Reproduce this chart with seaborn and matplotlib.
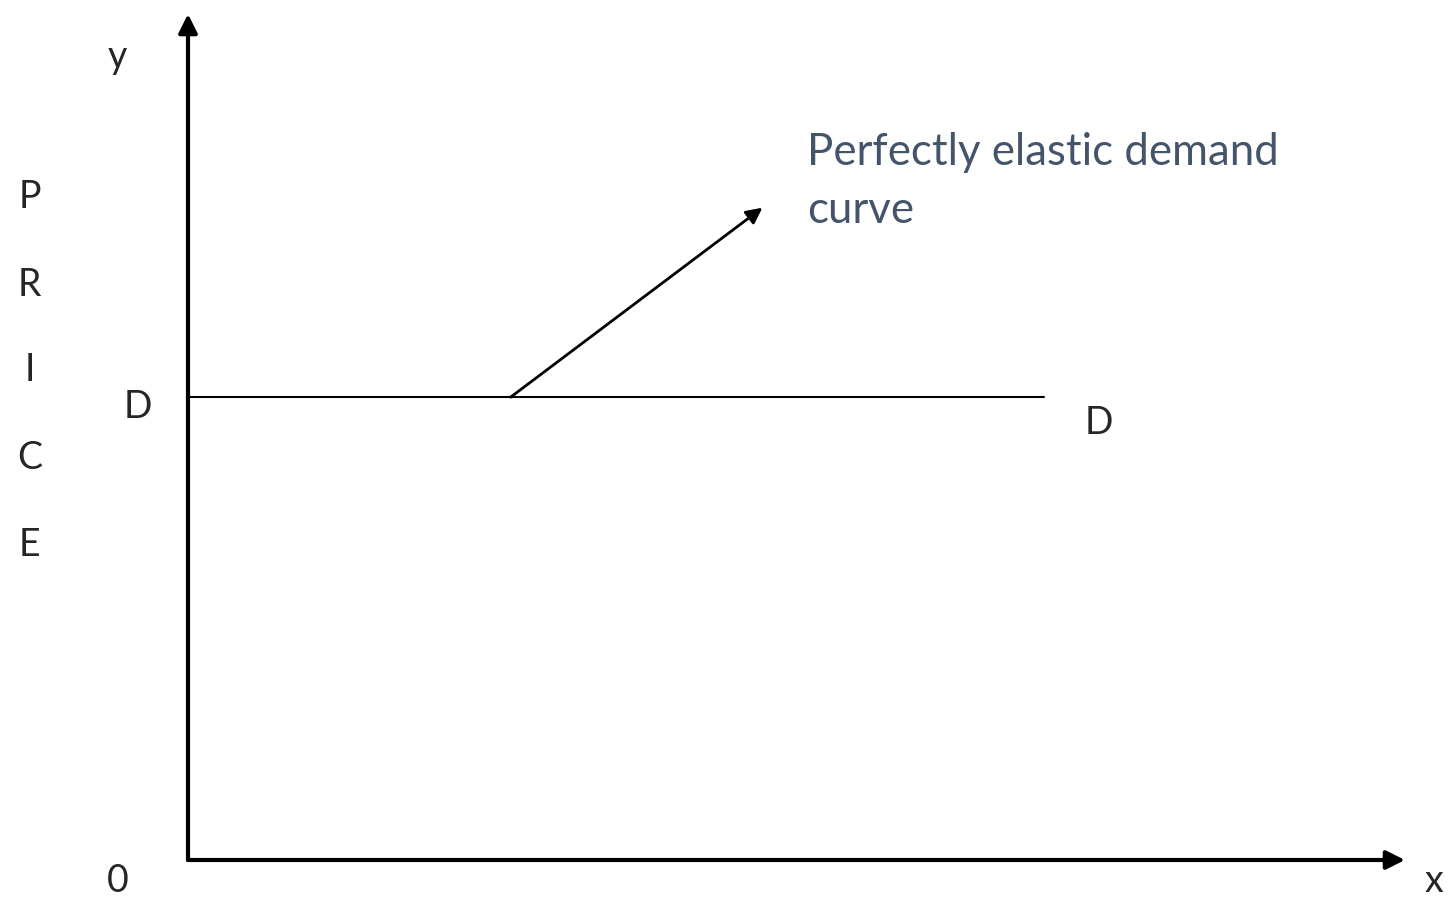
import matplotlib.pyplot as plt
import seaborn as sns
import pandas as pd

# diagram data (units: quantity 0..10, price 0..10)
demand_qty = [0.0, 7.03]
demand_price = [5.47, 5.47]
pointer_start = (2.65, 5.47)
pointer_end = (4.72, 7.71)
price_letters = ['P', 'R', 'I', 'C', 'E']
price_letter_y = [7.84, 6.80, 5.79, 4.75, 3.72]
label_text = 'Perfectly elastic demand\ncurve'
text_color = '#44546A'

sns.set_theme(style='white')
plt.rcParams['font.family'] = ['Lato', 'DejaVu Sans']

fig = plt.figure(figsize=(14.48, 9.01), dpi=100)
ax = fig.add_axes([188 / 1448, 41 / 901, 1217 / 1448, 846 / 901])
ax.set_xlim(0, 10)
ax.set_ylim(0, 10)
ax.axis('off')

# demand curve
df = pd.DataFrame({'qty': demand_qty, 'price': demand_price})
sns.lineplot(data=df, x='qty', y='price', color='black', linewidth=1.5, ax=ax)

# axes with arrow heads
ax.annotate('', xy=(1, 0), xytext=(0, 0), xycoords='axes fraction',
            arrowprops=dict(arrowstyle='-|>', color='black', lw=3,
                            mutation_scale=28, shrinkA=0, shrinkB=0))
ax.annotate('', xy=(0, 1), xytext=(0, 0), xycoords='axes fraction',
            arrowprops=dict(arrowstyle='-|>', color='black', lw=3,
                            mutation_scale=28, shrinkA=0, shrinkB=0))

# pointer arrow to the label
ax.annotate('', xy=pointer_end, xytext=pointer_start,
            arrowprops=dict(arrowstyle='-|>', color='black', lw=2,
                            mutation_scale=24, shrinkA=0, shrinkB=0))

fs = 27
ax.text(-0.58, 9.49, 'y', fontsize=fs, ha='center', va='center', clip_on=False)
ax.text(-0.58, -0.25, '0', fontsize=fs, ha='center', va='center', clip_on=False)
ax.text(10.24, -0.25, 'x', fontsize=fs, ha='center', va='center', clip_on=False)
ax.text(-0.41, 5.35, 'D', fontsize=fs, ha='center', va='center', clip_on=False)
ax.text(7.48, 5.17, 'D', fontsize=fs, ha='center', va='center', clip_on=False)
for letter, yy in zip(price_letters, price_letter_y):
    ax.text(-1.30, yy, letter, fontsize=fs, ha='center', va='center', clip_on=False)

ax.text(5.09, 8.60, label_text, fontsize=31.5, color=text_color,
        ha='left', va='top', linespacing=1.5)

fig.savefig('out.png', dpi=100)
